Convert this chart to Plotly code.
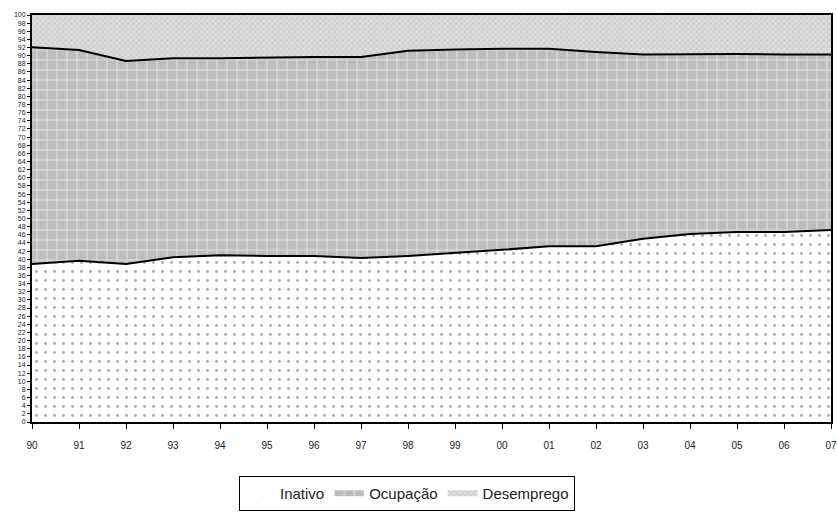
import plotly.graph_objects as go

years = ["90", "91", "92", "93", "94", "95", "96", "97", "98", "99",
         "00", "01", "02", "03", "04", "05", "06", "07"]
inativo = [38.8, 39.6, 38.8, 40.5, 41.0, 40.8, 40.8, 40.3, 40.8, 41.5,
           42.3, 43.2, 43.2, 45.0, 46.2, 46.7, 46.7, 47.2]
ocupacao = [53.3, 51.8, 49.9, 48.9, 48.4, 48.8, 48.9, 49.4, 50.4, 50.0,
            49.4, 48.5, 47.7, 45.3, 44.2, 43.7, 43.6, 43.1]
desemprego = [7.9, 8.6, 11.3, 10.6, 10.6, 10.4, 10.3, 10.3, 8.8, 8.5,
              8.3, 8.3, 9.1, 9.7, 9.6, 9.6, 9.7, 9.7]
y_ticks = list(range(0, 101, 2))

fig = go.Figure()
fig.add_trace(go.Scatter(
    x=years, y=inativo, name="Inativo", stackgroup="one", mode="none",
    fillcolor="white",
    fillpattern=dict(shape=".", fgcolor="#555555", bgcolor="white", size=9, solidity=0.08),
))
fig.add_trace(go.Scatter(
    x=years, y=ocupacao, name="Ocupação", stackgroup="one", mode="none",
    fillcolor="#bdbdbd",
    fillpattern=dict(shape="+", fgcolor="white", bgcolor="#bdbdbd", size=10, solidity=0.22),
))
fig.add_trace(go.Scatter(
    x=years, y=desemprego, name="Desemprego", stackgroup="one", mode="none",
    fillcolor="#d8d8d8",
    fillpattern=dict(shape="x", fgcolor="#f4f4f4", bgcolor="#cfcfcf", size=4, solidity=0.45),
))
# boundary lines
fig.add_trace(go.Scatter(
    x=years, y=inativo, mode="lines", showlegend=False, hoverinfo="skip",
    line=dict(color="black", width=2),
))
fig.add_trace(go.Scatter(
    x=years, y=[a + b for a, b in zip(inativo, ocupacao)], mode="lines",
    showlegend=False, hoverinfo="skip",
    line=dict(color="black", width=2),
))

fig.update_layout(
    width=837, height=513,
    margin=dict(l=32, r=6, t=15, b=91, autoexpand=False),
    paper_bgcolor="white", plot_bgcolor="white",
    font=dict(family="Liberation Sans, Arial, sans-serif", color="black"),
    showlegend=True,
    legend=dict(
        orientation="h", x=407 / 837, xref="container", xanchor="center",
        y=(513 - 476) / 513, yref="container", yanchor="top",
        traceorder="normal", bordercolor="black", borderwidth=1,
        font=dict(size=15, color="#222222"), itemwidth=30,
    ),
    xaxis=dict(
        type="category", range=[0, 17], showgrid=False,
        showline=True, linecolor="black", linewidth=2, mirror=True,
        ticks="outside", ticklen=5, tickcolor="black",
        ticklabelstandoff=8,
        tickfont=dict(size=10, color="#222222"),
    ),
    yaxis=dict(
        range=[0, 100], showgrid=False, tickvals=y_ticks,
        ticktext=[str(v) for v in y_ticks],
        showline=True, linecolor="black", linewidth=2, mirror=True,
        ticks="outside", ticklen=3, tickcolor="black",
        tickfont=dict(size=7, color="#222222"),
    ),
)

fig.write_html("out.html")
